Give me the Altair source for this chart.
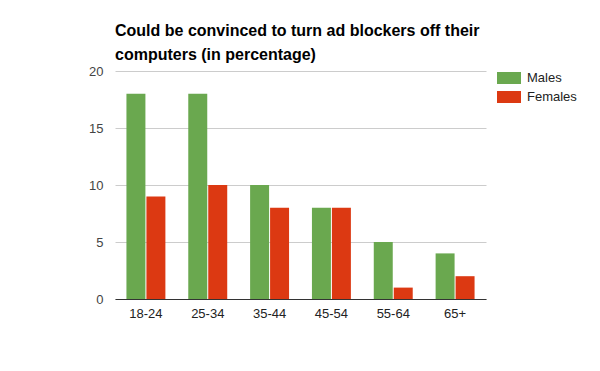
import altair as alt
import pandas as pd

ages = ["18-24", "25-34", "35-44", "45-54", "55-64", "65+"]
males = [18, 18, 10, 8, 5, 4]
females = [9, 10, 8, 8, 1, 2]
series = ["Males", "Females"]
colors = ["#6aa84f", "#dc3912"]

rows = []
for a, m, f in zip(ages, males, females):
    rows.append({"age": a, "series": "Males", "value": m})
    rows.append({"age": a, "series": "Females", "value": f})
df = pd.DataFrame(rows)

chart = alt.Chart(df).mark_bar().encode(
    x=alt.X("age:N", sort=ages, title=None,
            scale=alt.Scale(paddingInner=0.37, paddingOuter=0.185),
            axis=alt.Axis(labelAngle=0, ticks=False, domainColor="#333333",
                          labelPadding=8, labelFontSize=13, labelColor="#222222",
                          labelFont="Liberation Sans")),
    xOffset=alt.XOffset("series:N", sort=series,
                        scale=alt.Scale(paddingInner=0.05, paddingOuter=0)),
    y=alt.Y("value:Q", title=None,
            scale=alt.Scale(domain=[0, 20]),
            axis=alt.Axis(values=[0, 5, 10, 15, 20], domain=False, ticks=False,
                          gridColor="#cccccc", labelPadding=12, labelFontSize=13,
                          labelColor="#444444", labelFont="Liberation Sans")),
    color=alt.Color("series:N", sort=series,
                    scale=alt.Scale(domain=series, range=colors),
                    legend=alt.Legend(title=None, orient="none", legendX=382, legendY=-5,
                                      symbolType="M-1,-0.5H1V0.5H-1Z", symbolSize=576,
                                      symbolStrokeWidth=0, labelFontSize=13,
                                      labelColor="#222222", labelFont="Liberation Sans",
                                      rowPadding=0, labelOffset=6)),
).properties(
    width=371,
    height=228,
    title=alt.TitleParams(
        text=["Could be convinced to turn ad blockers off their",
              "computers (in percentage)"],
        anchor="start", frame="group", fontSize=16, font="Liberation Sans",
        fontWeight="bold", color="#000000", lineHeight=24, offset=2,
    ),
    padding={"left": 107, "top": 63, "right": 106, "bottom": 56},
    autosize=alt.AutoSizeParams(type="none"),
).configure_view(stroke=None)

chart.save("out.html", embed_options={"renderer": "svg", "actions": False})
